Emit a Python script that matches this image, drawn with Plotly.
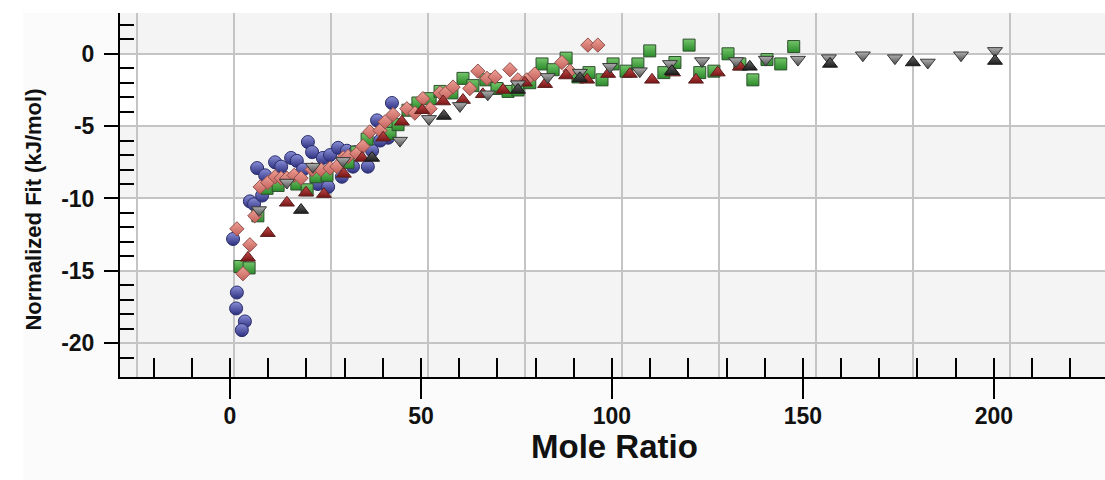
import plotly.graph_objects as go

# ---------------- data ----------------
blue_x = [0.8, 1.8, 1.6, 3.9, 3.1, 5.2, 6.3, 8.4, 7.1, 9.2, 11.8, 13.4, 16.0, 17.5, 20.4, 21.5,
          19.1, 23.0, 25.7, 24.3, 26.2, 28.3, 30.6, 29.3, 32.2, 36.1, 38.5, 42.4, 41.4, 39.3, 37.2, 32.7]
blue_y = [-12.8, -16.5, -17.6, -18.5, -19.1, -10.2, -10.4, -9.8, -7.9, -8.4, -7.5, -7.8, -7.2, -7.4, -6.1, -6.8,
          -8.0, -9.0, -9.2, -7.2, -7.0, -6.5, -6.7, -8.5, -7.8, -7.8, -4.6, -3.4, -5.8, -6.0, -6.7, -6.8]

green_x = [2.6, 5.0, 7.3, 9.7, 12.6, 17.5, 20.2, 22.5, 25.4, 30.9, 33.2, 35.9, 41.1, 41.9, 44.0, 46.6,
           49.2, 52.4, 55.0, 58.1, 61.0, 63.6, 67.0, 69.9, 72.8, 75.4, 78.5, 81.7, 84.6, 88.0, 91.1, 94.0,
           97.4, 100.3, 103.7, 106.8, 109.9, 113.6, 116.5, 120.2, 123.0, 126.7, 130.4, 133.5, 136.9, 140.6,
           144.2, 147.6]
green_y = [-14.7, -14.8, -11.2, -9.3, -9.1, -9.0, -9.4, -8.5, -8.4, -7.5, -6.8, -5.9, -5.1, -5.5, -4.9, -3.9,
           -3.4, -3.1, -2.6, -2.7, -1.7, -2.2, -1.8, -2.4, -2.6, -2.5, -2.0, -0.7, -1.1, -0.3, -1.6, -1.3,
           -1.8, -0.7, -1.2, -0.7, 0.2, -1.3, -0.6, 0.6, -1.3, -1.2, 0.0, -0.7, -1.8, -0.4,
           -0.7, 0.5]

pink_x = [1.8, 5.2, 3.4, 6.5, 7.9, 9.9, 11.8, 13.4, 14.9, 16.8, 18.6, 21.5, 23.8, 26.2, 28.0, 29.6,
          30.9, 33.2, 34.8, 36.6, 39.3, 40.6, 42.7, 46.3, 48.4, 50.5, 52.4, 55.0, 56.5, 58.4, 62.8, 64.9,
          67.3, 69.4, 73.3, 75.4, 77.7, 79.8, 86.9, 89.0, 93.7, 96.3]
pink_y = [-12.1, -13.2, -15.2, -11.2, -9.2, -8.9, -8.5, -8.6, -8.6, -8.4, -8.6, -8.0, -8.0, -7.9, -7.8, -7.2,
          -7.1, -6.9, -6.4, -5.4, -5.3, -4.7, -4.2, -3.8, -4.1, -3.1, -3.8, -2.7, -2.7, -2.3, -2.4, -1.2,
          -1.7, -1.6, -1.1, -1.8, -1.8, -1.4, -0.6, -1.2, 0.6, 0.6]

red_x = [4.7, 9.9, 14.9, 19.9, 24.6, 29.8, 34.6, 40.1, 45.0, 50.3, 55.8, 61.0, 66.2, 71.5, 77.2, 82.5,
         88.0, 93.5, 99.0, 104.7, 110.5, 116.0, 122.0, 127.7, 133.5]
red_y = [-14.1, -12.4, -10.3, -9.6, -9.7, -8.3, -7.2, -5.8, -4.7, -3.9, -3.3, -3.2, -2.8, -2.5, -2.0, -2.1,
         -1.5, -1.8, -1.4, -1.4, -1.8, -1.3, -1.8, -1.3, -0.9]

gray_x = [7.6, 14.9, 21.7, 29.6, 44.5, 52.1, 60.2, 67.5, 75.4, 83.2, 91.6, 99.5, 107.3, 115.2, 123.6,
          132.5, 140.3, 148.7, 156.8, 165.7, 174.1, 182.7, 191.4, 200.3]
gray_y = [-10.8, -8.9, -7.8, -7.4, -6.0, -4.5, -3.6, -2.8, -2.1, -1.6, -1.3, -0.9, -1.2, -0.7, -0.5,
          -0.5, -0.4, -0.4, -0.3, -0.1, -0.3, -0.6, -0.1, 0.2]

black_x = [18.6, 37.2, 56.0, 75.4, 91.6, 115.7, 136.1, 157.1, 178.8, 200.3]
black_y = [-10.8, -7.2, -4.3, -2.5, -1.7, -1.2, -0.9, -0.7, -0.6, -0.5]

x_major_ticks = [0, 50, 100, 150, 200]
x_tick_text = ["0", "50", "100", "150", "200"]
y_major_ticks = [0, -5, -10, -15, -20]
y_tick_text = ["0", "-5", "-10", "-15", "-20"]
y_minor_ticks = [2, 1, -1, -2, -3, -4, -6, -7, -8, -9, -11, -12, -13, -14, -16, -17, -18, -19, -21]

X_RANGE = [-28.8, 229.1]
Y_RANGE = [-22.34, 2.82]

FONT = "Liberation Sans, Arial, sans-serif"

fig = go.Figure()

def add_series(x, y, symbol, size, top, bottom, edge):
    fig.add_trace(go.Scatter(
        x=x, y=y, mode="markers", showlegend=False,
        marker=dict(symbol=symbol, size=size, color=top,
                    gradient=dict(type="vertical", color=bottom),
                    line=dict(color=edge, width=1)),
    ))

add_series(blue_x, blue_y, "circle", 13, "#8a8fd8", "#2c2f7e", "#2a2d6a")
add_series(green_x, green_y, "square", 12, "#74c66a", "#2a8a2a", "#2e4f2e")
add_series(pink_x, pink_y, "diamond", 11, "#eea096", "#c2605a", "#8f4f4a")
add_series(red_x, red_y, "triangle-up", 13, "#c44a4a", "#781616", "#5a2020")
add_series(gray_x, gray_y, "triangle-down", 13, "#b0b0b0", "#4a4a4a", "#363636")
add_series(black_x, black_y, "triangle-up", 13, "#666666", "#1e1e1e", "#1a1a1a")

# invisible trace to host the grid axis
fig.add_trace(go.Scatter(x=[], y=[], xaxis="x2", yaxis="y", showlegend=False, hoverinfo="skip"))

# faint frame behind the chart
fig.add_shape(type="rect", xref="paper", yref="paper", x0=-0.0985, x1=1.0, y0=-0.282, y1=1.0,
              fillcolor="#fbfbfb", line=dict(width=0), layer="below")

# alternating background bands
band = "#f4f4f4"
for y0, y1 in [(0, Y_RANGE[1]), (-10, -5), (-20, -15), (Y_RANGE[0], -20)]:
    fig.add_shape(type="rect", xref="paper", yref="y", x0=0, x1=1, y0=y0, y1=y1,
                  fillcolor=band, line=dict(width=0), layer="below")
fig.add_shape(type="rect", xref="paper", yref="y", x0=0, x1=1, y0=-5, y1=0,
              fillcolor="white", line=dict(width=0), layer="below")
fig.add_shape(type="rect", xref="paper", yref="y", x0=0, x1=1, y0=-15, y1=-10,
              fillcolor="white", line=dict(width=0), layer="below")

fig.update_layout(
    width=1105, height=480,
    margin=dict(l=120, r=0, t=13, b=103),
    paper_bgcolor="white", plot_bgcolor="white",
    xaxis=dict(
        range=X_RANGE, showgrid=False, zeroline=False,
        showline=True, linecolor="black", linewidth=2,
        tickmode="array", tickvals=x_major_ticks, ticktext=x_tick_text,
        ticks="outside", ticklen=20, tickwidth=1.5, tickcolor="black",
        minor=dict(dtick=10, tick0=0, ticks="inside", ticklen=19, tickwidth=1.5, tickcolor="black"),
        tickfont=dict(family=FONT, size=23, color="#111111", weight="bold"),
        ticklabelstandoff=-3,
    ),
    xaxis2=dict(
        range=[-0.172, 9.979], overlaying="x", anchor="y", side="bottom",
        showgrid=True, gridcolor="#c4c4c4", gridwidth=1.5, dtick=1, tick0=0,
        showticklabels=False, ticks="", showline=False, zeroline=False,
    ),
    yaxis=dict(
        range=Y_RANGE, showgrid=True, gridcolor="#c4c4c4", gridwidth=1.5, zeroline=False,
        showline=True, linecolor="black", linewidth=2,
        tickmode="array", tickvals=y_major_ticks, ticktext=y_tick_text,
        ticks="outside", ticklen=14, tickwidth=1.5, tickcolor="black",
        minor=dict(tickmode="array", tickvals=y_minor_ticks, ticks="inside",
                   ticklen=14, tickwidth=1.5, tickcolor="black", showgrid=False),
        tickfont=dict(family=FONT, size=23, color="#111111", weight="bold"),
        ticklabelstandoff=5,
    ),
    annotations=[
        dict(text="<b>Mole Ratio</b>", xref="paper", yref="paper", x=0.5025, y=-0.192,
             xanchor="center", yanchor="middle", showarrow=False,
             font=dict(family=FONT, size=33, color="#111111")),
        dict(text="<b>Normalized Fit (kJ/mol)</b>", xref="paper", yref="paper", x=-0.0873, y=0.46,
             xanchor="center", yanchor="middle", textangle=-90, showarrow=False,
             font=dict(family=FONT, size=22, color="#111111")),
    ],
)

fig.write_html("out.html")
